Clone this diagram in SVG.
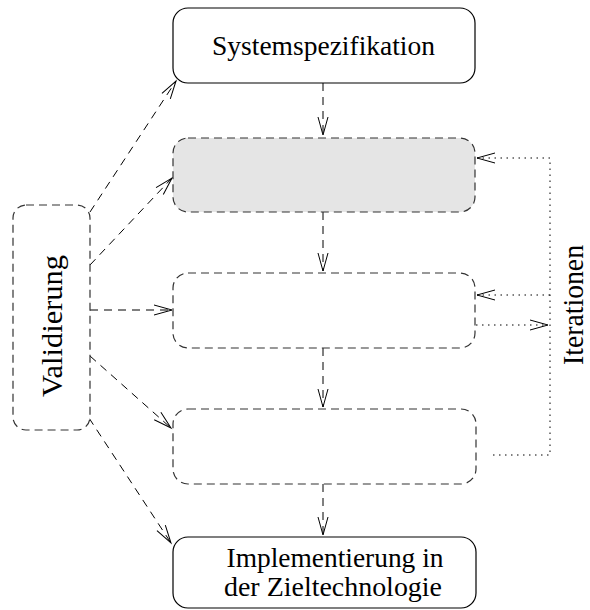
<svg xmlns="http://www.w3.org/2000/svg" width="590" height="610" viewBox="0 0 590 610">
  <defs>
    <marker id="open" markerUnits="userSpaceOnUse" markerWidth="24" markerHeight="14" viewBox="-20 -7 24 14" refX="0" refY="0" orient="auto">
      <path d="M-18,-5 L0,0 L-18,5" fill="none" stroke="#000" stroke-width="1"/>
    </marker>
  </defs>
  <style>
    .solid { fill: #fff; stroke: #000; stroke-width: 1.2; }
    .dash { fill: #fff; stroke: #333; stroke-width: 1.2; stroke-dasharray: 8 5; }
    .grey { fill: #e5e5e5; }
    .flow { fill: none; stroke: #000; stroke-width: 1; stroke-dasharray: 8 6; marker-end: url(#open); }
    .iter { fill: none; stroke: #000; stroke-width: 1; stroke-dasharray: 1.5 4.5; }
    .iterArrow { marker-end: url(#open); }
    text { font-family: "Liberation Serif", "Times New Roman", serif; fill: #000; }
    .lbl { font-size: 27px; text-anchor: middle; }
    .vlbl { font-size: 29px; text-anchor: middle; }
  </style>

  <!-- connectors -->
  <g id="connectors">
    <!-- main flow, top to bottom -->
    <line class="flow" x1="323" y1="83" x2="323" y2="135"/>
    <line class="flow" x1="323" y1="212" x2="323" y2="271"/>
    <line class="flow" x1="323" y1="348" x2="323" y2="407"/>
    <line class="flow" x1="323" y1="484" x2="323" y2="535"/>
    <!-- validation fan-out -->
    <line class="flow" x1="90" y1="212" x2="176" y2="81"/>
    <line class="flow" x1="90" y1="265" x2="172" y2="178"/>
    <line class="flow" x1="90" y1="310" x2="172" y2="310"/>
    <line class="flow" x1="90" y1="356" x2="171" y2="428"/>
    <line class="flow" x1="89" y1="418" x2="171" y2="543"/>
    <!-- iteration loops -->
    <polyline class="iter iterArrow" points="493,455 550,455 550,158 477,158"/>
    <polyline class="iter iterArrow" points="550,295 477,295"/>
    <polyline class="iter iterArrow" points="476,325 548,325"/>
  </g>

  <g id="systemspezifikation">
    <rect class="solid" x="173" y="8" width="302" height="75" rx="15"/>
    <text class="lbl" x="323.5" y="55" textLength="223" lengthAdjust="spacingAndGlyphs">Systemspezifikation</text>
  </g>

  <g id="stufe1">
    <rect class="dash grey" x="173" y="138" width="302" height="74" rx="15"/>
  </g>

  <g id="stufe2">
    <rect class="dash" x="173" y="273" width="302" height="75" rx="15"/>
  </g>

  <g id="stufe3">
    <rect class="dash" x="173" y="409" width="303" height="75" rx="15"/>
  </g>

  <g id="implementierung">
    <rect class="solid" x="173" y="537" width="303" height="71" rx="15"/>
    <text class="lbl" x="335" y="567" textLength="217" lengthAdjust="spacingAndGlyphs">Implementierung in</text>
    <text class="lbl" x="333" y="596" textLength="218" lengthAdjust="spacingAndGlyphs">der Zieltechnologie</text>
  </g>

  <g id="validierung">
    <rect class="dash" x="13" y="205" width="77" height="225" rx="13"/>
    <text class="vlbl" transform="translate(62,326) rotate(-90)" textLength="142" lengthAdjust="spacingAndGlyphs">Validierung</text>
  </g>

  <g id="iterationen">
    <text class="vlbl" font-size="26" transform="translate(583,305) rotate(-90)" textLength="120" lengthAdjust="spacingAndGlyphs">Iterationen</text>
  </g>
</svg>
